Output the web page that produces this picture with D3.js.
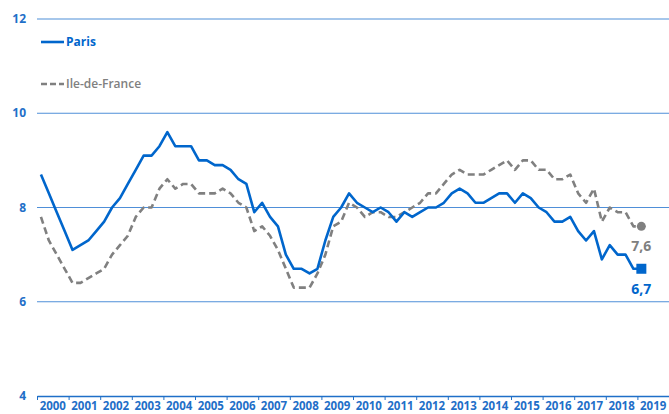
<!DOCTYPE html>
<html>
<head>
<meta charset="utf-8">
<script src="https://cdn.jsdelivr.net/npm/d3@7"></script>
<style>
  body { margin: 0; background: #fff; }
  svg { display: block; font-family: "Open Sans", "DejaVu Sans", sans-serif; }
</style>
</head>
<body>
<div id="chart"></div>
<script>
// years shown on the axis, 4 quarters each
var years = d3.range(2000, 2020);
var yTicks = [4, 6, 8, 10, 12];

// quarterly rates, 2000 Q1 -> 2019 Q1
var paris = [8.7, 8.3, 7.9, 7.5, 7.1, 7.2, 7.3, 7.5, 7.7, 8.0,
             8.2, 8.5, 8.8, 9.1, 9.1, 9.3, 9.6, 9.3, 9.3, 9.3,
             9.0, 9.0, 8.9, 8.9, 8.8, 8.6, 8.5, 7.9, 8.1, 7.8,
             7.6, 7.0, 6.7, 6.7, 6.6, 6.7, 7.3, 7.8, 8.0, 8.3,
             8.1, 8.0, 7.9, 8.0, 7.9, 7.7, 7.9, 7.8, 7.9, 8.0,
             8.0, 8.1, 8.3, 8.4, 8.3, 8.1, 8.1, 8.2, 8.3, 8.3,
             8.1, 8.3, 8.2, 8.0, 7.9, 7.7, 7.7, 7.8, 7.5, 7.3,
             7.5, 6.9, 7.2, 7.0, 7.0, 6.7, 6.7];

var idf = [7.8, 7.3, 7.0, 6.7, 6.4, 6.4, 6.5, 6.6, 6.7, 7.0,
           7.2, 7.4, 7.8, 8.0, 8.0, 8.4, 8.6, 8.4, 8.5, 8.5,
           8.3, 8.3, 8.3, 8.4, 8.3, 8.1, 8.0, 7.5, 7.6, 7.4,
           7.1, 6.7, 6.3, 6.3, 6.3, 6.6, 7.0, 7.6, 7.7, 8.1,
           8.0, 7.8, 7.9, 7.9, 7.8, 7.8, 7.9, 8.0, 8.1, 8.3,
           8.3, 8.5, 8.7, 8.8, 8.7, 8.7, 8.7, 8.8, 8.9, 9.0,
           8.8, 9.0, 9.0, 8.8, 8.8, 8.6, 8.6, 8.7, 8.3, 8.1,
           8.4, 7.7, 8.0, 7.9, 7.9, 7.6, 7.6];

var series = [
  { name: "Paris", values: paris, color: "#0066cc", dash: null, marker: "square", label: "6,7" },
  { name: "Ile-de-France", values: idf, color: "#808080", dash: "7,4", marker: "circle", label: "7,6" }
];

var width = 669, height = 414;
var margin = { top: 19, right: 0, bottom: 18, left: 37 };

var svg = d3.select("#chart").append("svg")
    .attr("width", width)
    .attr("height", height);

// x in quarters since 2000 Q1
var x = d3.scaleLinear().domain([0, years.length * 4]).range([margin.left, width - margin.right]);
var y = d3.scaleLinear().domain([4, 12]).range([height - margin.bottom, margin.top]);

// gridlines
svg.append("g")
  .selectAll("line")
  .data(yTicks.filter(function(d) { return d > 4; }))
  .join("line")
    .attr("x1", x.range()[0])
    .attr("x2", x.range()[1])
    .attr("y1", function(d) { return y(d); })
    .attr("y2", function(d) { return y(d); })
    .attr("stroke", "#4f8fd8")
    .attr("stroke-width", 1.2);

// y labels
svg.append("g")
  .selectAll("text")
  .data(yTicks)
  .join("text")
    .attr("x", 26)
    .attr("y", function(d) { return y(d); })
    .attr("dy", "0.35em")
    .attr("text-anchor", "end")
    .attr("fill", "#1f6fc8")
    .attr("font-size", 12)
    .attr("font-weight", 700)
    .text(function(d) { return d; });

// x axis: ticks on year boundaries, labels in the middle of each year
var xAxis = svg.append("g")
    .attr("transform", "translate(0," + y(4) + ")")
    .call(d3.axisBottom(x)
      .tickValues(d3.range(0, years.length * 4 + 1, 4))
      .tickSize(4)
      .tickSizeOuter(0)
      .tickFormat(""));
xAxis.select(".domain").attr("stroke", "#1f6fc8").attr("stroke-width", 1.6);
xAxis.selectAll(".tick line").attr("stroke", "#1f6fc8");

svg.append("g")
  .selectAll("text")
  .data(years)
  .join("text")
    .attr("x", function(d, i) { return x(i * 4 + 2); })
    .attr("y", 410)
    .attr("text-anchor", "middle")
    .attr("fill", "#1f6fc8")
    .attr("font-size", 11.5)
    .attr("font-weight", 700)
    .text(function(d) { return d; });

var line = d3.line()
    .x(function(d, i) { return x(i + 0.5); })
    .y(function(d) { return y(d); });

// draw IdF first so Paris sits on top
series.slice().reverse().forEach(function(s) {
  svg.append("path")
    .datum(s.values)
    .attr("fill", "none")
    .attr("stroke", s.color)
    .attr("stroke-width", 2.6)
    .attr("stroke-dasharray", s.dash)
    .attr("stroke-linejoin", "round")
    .attr("d", line);

  var n = s.values.length - 1;
  var lx = x(n + 0.5), ly = y(s.values[n]);
  if (s.marker == "square") {
    svg.append("rect")
      .attr("x", lx - 5).attr("y", ly - 5)
      .attr("width", 10).attr("height", 10)
      .attr("fill", s.color);
  } else {
    svg.append("circle")
      .attr("cx", lx).attr("cy", ly).attr("r", 4.5)
      .attr("fill", s.color);
  }
  svg.append("text")
    .attr("x", lx)
    .attr("y", ly + 20)
    .attr("dy", "0.35em")
    .attr("text-anchor", "middle")
    .attr("fill", s.color)
    .attr("font-size", 14)
    .attr("font-weight", 700)
    .text(s.label);
});

// legend
var legend = svg.append("g")
  .selectAll("g")
  .data(series)
  .join("g")
    .attr("transform", function(d, i) { return "translate(41," + (42 + i * 42) + ")"; });

legend.append("line")
    .attr("x1", 0).attr("x2", 23)
    .attr("stroke", function(d) { return d.color; })
    .attr("stroke-width", 2.6)
    .attr("stroke-dasharray", function(d) { return d.dash ? "6,3" : null; });

legend.append("text")
    .attr("x", 25)
    .attr("dy", "0.35em")
    .attr("fill", function(d) { return d.color; })
    .attr("font-size", 12)
    .attr("font-weight", function(d, i) { return i == 0 ? 700 : 600; })
    .text(function(d) { return d.name; });
</script>
</body>
</html>
